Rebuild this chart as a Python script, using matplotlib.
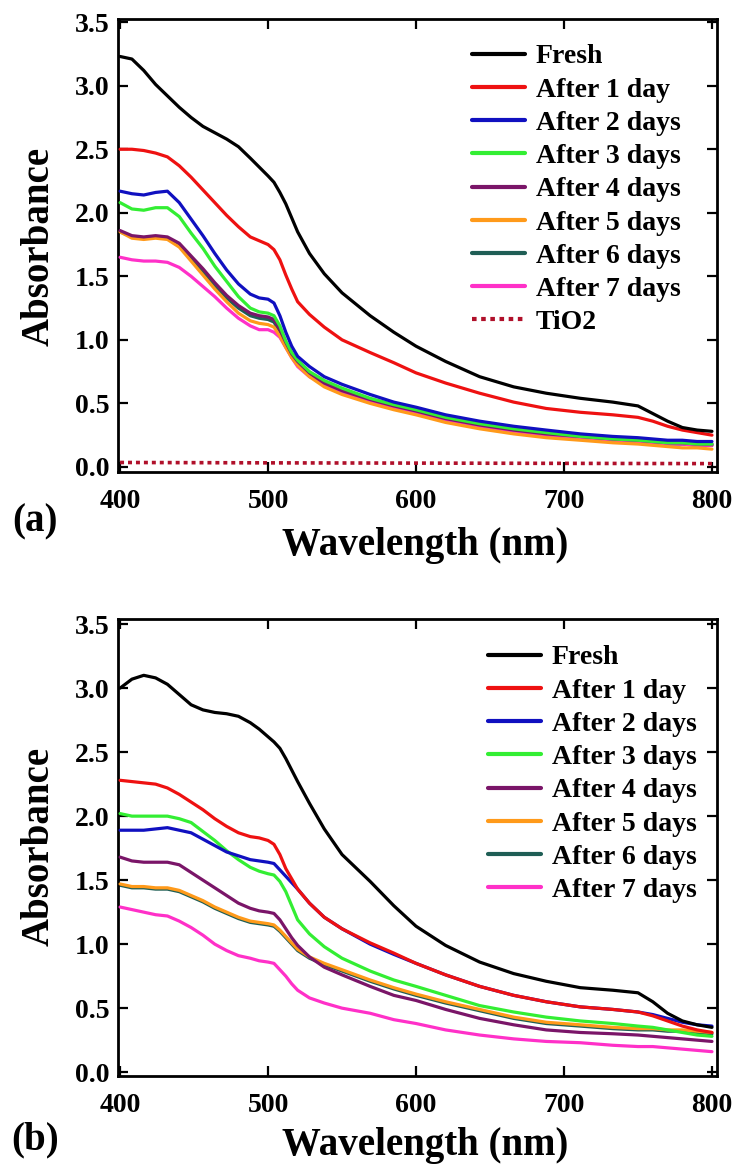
import matplotlib
matplotlib.use("Agg")
import matplotlib.pyplot as plt

plt.rcParams['font.family'] = ['Liberation Serif', 'DejaVu Serif']
plt.rcParams['font.weight'] = 'bold'

# ---- data -------------------------------------------------------------
wavelength = [400, 408, 416, 424, 432, 440, 448, 456, 464, 472, 480, 488, 494,
              500, 504, 508, 512, 516, 520, 528, 538, 550, 569, 585, 600, 620,
              643, 666, 688, 711, 733, 750, 760, 770, 780, 790, 800]

labels = ["Fresh", "After 1 day", "After 2 days", "After 3 days", "After 4 days",
          "After 5 days", "After 6 days", "After 7 days"]
colors = ["#000000", "#ee1111", "#1010c0", "#33ee33", "#7a1568",
          "#ff9a1a", "#1f5e55", "#ff30c8"]

# (a) first series of cells
a_fresh = [3.23, 3.21, 3.12, 3.01, 2.92, 2.83, 2.75, 2.68, 2.63, 2.58, 2.52, 2.43, 2.36,
           2.29, 2.24, 2.16, 2.07, 1.96, 1.85, 1.68, 1.52, 1.37, 1.19, 1.06, 0.95, 0.83,
           0.71, 0.63, 0.58, 0.54, 0.51, 0.48, 0.42, 0.36, 0.31, 0.29, 0.28]
a_day1 = [2.50, 2.50, 2.49, 2.47, 2.44, 2.37, 2.28, 2.18, 2.08, 1.98, 1.89, 1.81, 1.78,
          1.75, 1.71, 1.63, 1.51, 1.40, 1.30, 1.20, 1.10, 1.00, 0.90, 0.82, 0.74, 0.66,
          0.58, 0.51, 0.46, 0.43, 0.41, 0.39, 0.36, 0.32, 0.29, 0.27, 0.25]
a_day2 = [2.17, 2.15, 2.14, 2.16, 2.17, 2.08, 1.95, 1.82, 1.68, 1.55, 1.44, 1.36, 1.33,
          1.32, 1.29, 1.19, 1.06, 0.95, 0.87, 0.79, 0.71, 0.65, 0.57, 0.51, 0.47, 0.41,
          0.36, 0.32, 0.29, 0.26, 0.24, 0.23, 0.22, 0.21, 0.21, 0.20, 0.20]
a_day3 = [2.08, 2.03, 2.02, 2.04, 2.04, 1.97, 1.84, 1.72, 1.58, 1.46, 1.34, 1.25, 1.22,
          1.21, 1.19, 1.11, 0.99, 0.90, 0.84, 0.75, 0.68, 0.62, 0.54, 0.49, 0.45, 0.39,
          0.34, 0.30, 0.27, 0.24, 0.22, 0.21, 0.20, 0.19, 0.19, 0.18, 0.18]
a_day4 = [1.86, 1.82, 1.81, 1.82, 1.81, 1.76, 1.66, 1.56, 1.45, 1.35, 1.27, 1.21, 1.19,
          1.18, 1.16, 1.08, 0.98, 0.89, 0.83, 0.74, 0.66, 0.60, 0.53, 0.48, 0.44, 0.38,
          0.33, 0.29, 0.26, 0.24, 0.22, 0.21, 0.20, 0.19, 0.19, 0.18, 0.18]
a_day5 = [1.85, 1.80, 1.79, 1.80, 1.79, 1.73, 1.62, 1.51, 1.40, 1.30, 1.21, 1.15, 1.13,
          1.12, 1.10, 1.03, 0.94, 0.86, 0.80, 0.71, 0.63, 0.57, 0.50, 0.45, 0.41, 0.35,
          0.30, 0.26, 0.23, 0.21, 0.19, 0.18, 0.17, 0.16, 0.15, 0.15, 0.14]
a_day6 = [1.85, 1.81, 1.80, 1.81, 1.80, 1.75, 1.64, 1.54, 1.43, 1.33, 1.25, 1.19, 1.17,
          1.16, 1.14, 1.06, 0.97, 0.88, 0.82, 0.73, 0.65, 0.59, 0.52, 0.47, 0.43, 0.37,
          0.32, 0.28, 0.25, 0.23, 0.21, 0.20, 0.19, 0.18, 0.18, 0.17, 0.17]
a_day7 = [1.65, 1.63, 1.62, 1.62, 1.61, 1.57, 1.50, 1.42, 1.34, 1.25, 1.17, 1.11, 1.08,
          1.08, 1.06, 1.02, 0.94, 0.86, 0.79, 0.71, 0.65, 0.59, 0.52, 0.47, 0.43, 0.37,
          0.32, 0.28, 0.25, 0.23, 0.21, 0.20, 0.19, 0.18, 0.18, 0.17, 0.17]

tio2_wavelength = [400, 500, 600, 700, 800]
tio2 = [0.035, 0.032, 0.030, 0.028, 0.026]

# (b) second series of cells
b_fresh = [3.00, 3.07, 3.10, 3.08, 3.03, 2.95, 2.87, 2.83, 2.81, 2.80, 2.78, 2.73, 2.68,
           2.62, 2.58, 2.53, 2.45, 2.36, 2.27, 2.10, 1.90, 1.70, 1.49, 1.30, 1.14, 0.99,
           0.86, 0.77, 0.71, 0.66, 0.64, 0.62, 0.55, 0.46, 0.40, 0.37, 0.35]
b_day1 = [2.28, 2.27, 2.26, 2.25, 2.22, 2.17, 2.11, 2.05, 1.98, 1.92, 1.87, 1.84, 1.83,
          1.81, 1.78, 1.70, 1.59, 1.51, 1.43, 1.32, 1.21, 1.12, 1.01, 0.93, 0.85, 0.76,
          0.67, 0.60, 0.55, 0.51, 0.49, 0.47, 0.44, 0.40, 0.36, 0.33, 0.31]
b_day2 = [1.89, 1.89, 1.89, 1.90, 1.91, 1.89, 1.87, 1.82, 1.77, 1.72, 1.69, 1.66, 1.65,
          1.64, 1.63, 1.58, 1.53, 1.48, 1.43, 1.32, 1.21, 1.12, 1.00, 0.92, 0.85, 0.76,
          0.67, 0.60, 0.55, 0.51, 0.49, 0.47, 0.45, 0.42, 0.39, 0.37, 0.36]
b_day3 = [2.02, 2.00, 2.00, 2.00, 2.00, 1.98, 1.95, 1.88, 1.81, 1.73, 1.66, 1.60, 1.57,
          1.55, 1.54, 1.49, 1.41, 1.30, 1.19, 1.08, 0.98, 0.89, 0.79, 0.72, 0.67, 0.60,
          0.52, 0.47, 0.43, 0.40, 0.38, 0.36, 0.35, 0.33, 0.31, 0.29, 0.28]
b_day4 = [1.68, 1.65, 1.64, 1.64, 1.64, 1.62, 1.56, 1.50, 1.44, 1.38, 1.32, 1.28, 1.26,
          1.25, 1.24, 1.19, 1.12, 1.05, 0.99, 0.90, 0.82, 0.76, 0.67, 0.60, 0.56, 0.49,
          0.42, 0.37, 0.33, 0.31, 0.30, 0.29, 0.28, 0.27, 0.26, 0.25, 0.24]
b_day5 = [1.47, 1.45, 1.45, 1.44, 1.44, 1.42, 1.38, 1.34, 1.29, 1.25, 1.21, 1.18, 1.17,
          1.16, 1.15, 1.11, 1.06, 1.01, 0.96, 0.90, 0.85, 0.80, 0.72, 0.66, 0.61, 0.55,
          0.49, 0.43, 0.39, 0.37, 0.35, 0.34, 0.34, 0.33, 0.33, 0.32, 0.31]
b_day6 = [1.46, 1.44, 1.44, 1.43, 1.43, 1.41, 1.37, 1.33, 1.28, 1.24, 1.20, 1.17, 1.16,
          1.15, 1.14, 1.10, 1.05, 1.00, 0.95, 0.89, 0.84, 0.79, 0.71, 0.65, 0.60, 0.54,
          0.48, 0.42, 0.38, 0.36, 0.34, 0.33, 0.33, 0.32, 0.32, 0.31, 0.30]
b_day7 = [1.29, 1.27, 1.25, 1.23, 1.22, 1.18, 1.13, 1.07, 1.00, 0.95, 0.91, 0.89, 0.87,
          0.86, 0.85, 0.80, 0.75, 0.69, 0.64, 0.58, 0.54, 0.50, 0.46, 0.41, 0.38, 0.33,
          0.29, 0.26, 0.24, 0.23, 0.21, 0.20, 0.20, 0.19, 0.18, 0.17, 0.16]

x_ticks = [400, 500, 600, 700, 800]
y_ticks = [0.0, 0.5, 1.0, 1.5, 2.0, 2.5, 3.0, 3.5]

# ---- figure -----------------------------------------------------------
W, H = 738, 1169
fig = plt.figure(figsize=(W / 100, H / 100), dpi=100)

ax_a = fig.add_axes([118 / W, 1 - 472 / H, 599 / W, 453 / H])
ax_b = fig.add_axes([118 / W, 1 - 1076 / H, 599 / W, 457 / H])

series_a = [a_fresh, a_day1, a_day2, a_day3, a_day4, a_day5, a_day6, a_day7]
series_b = [b_fresh, b_day1, b_day2, b_day3, b_day4, b_day5, b_day6, b_day7]
# the "After 6 days" trace lies beneath its neighbours
zorders = [10, 9, 8, 7, 6, 5, 2, 4]

for ax, series in ((ax_a, series_a), (ax_b, series_b)):
    for vals, lab, col, z in zip(series, labels, colors, zorders):
        ax.plot(wavelength, vals, color=col, lw=2.3, label=lab, zorder=z,
                solid_joinstyle='round', solid_capstyle='round')

ax_a.plot(tio2_wavelength, tio2, color="#b0102a", lw=2.6, ls=(0, (1.1, 1.1)),
          label="TiO2", zorder=3)

ax_a.set_ylim(-0.04, 3.525)
ax_b.set_ylim(-0.03, 3.54)

for ax in (ax_a, ax_b):
    ax.set_xlim(398.6, 803.4)
    ax.set_xticks(x_ticks)
    ax.set_yticks(y_ticks)
    ax.set_xticklabels([str(v) for v in x_ticks])
    ax.set_yticklabels([f"{v:.1f}" for v in y_ticks])
    ax.tick_params(direction='in', length=7, width=1.6, top=True, right=True,
                   labelsize=20, pad=6)
    ax.tick_params(axis='x', pad=12)
    for lbl in ax.get_xticklabels() + ax.get_yticklabels():
        lbl.set_fontweight('bold')
    for sp in ax.spines.values():
        sp.set_linewidth(2.0)

legend_kw = dict(frameon=False, borderpad=0, borderaxespad=0, handlelength=1.9,
                 handletextpad=0.4, labelspacing=0.28,
                 prop={'size': 20, 'weight': 'bold'})
leg_a = ax_a.legend(loc='upper left', bbox_to_anchor=(472 / W, 1 - 44 / H),
                    bbox_transform=fig.transFigure, **legend_kw)
leg_b = ax_b.legend(loc='upper left', bbox_to_anchor=(488 / W, 1 - 645 / H),
                    bbox_transform=fig.transFigure, **legend_kw)
for leg in (leg_a, leg_b):
    for h in leg.get_lines():
        h.set_linewidth(3.0)

big = dict(fontsize=28, fontweight='bold')
fig.text(39 / W, 1 - 246 / H, "Absorbance", rotation=90, ha='center', va='center', **big)
fig.text(39 / W, 1 - 846 / H, "Absorbance", rotation=90, ha='center', va='center', **big)
fig.text(425 / W, 1 - 545 / H, "Wavelength (nm)", ha='center', va='center', **big)
fig.text(425 / W, 1 - 1146 / H, "Wavelength (nm)", ha='center', va='center', **big)
fig.text(35 / W, 1 - 522 / H, "(a)", ha='center', va='center', **big)
fig.text(35 / W, 1 - 1140 / H, "(b)", ha='center', va='center', **big)

fig.savefig("out.png", dpi=100)
